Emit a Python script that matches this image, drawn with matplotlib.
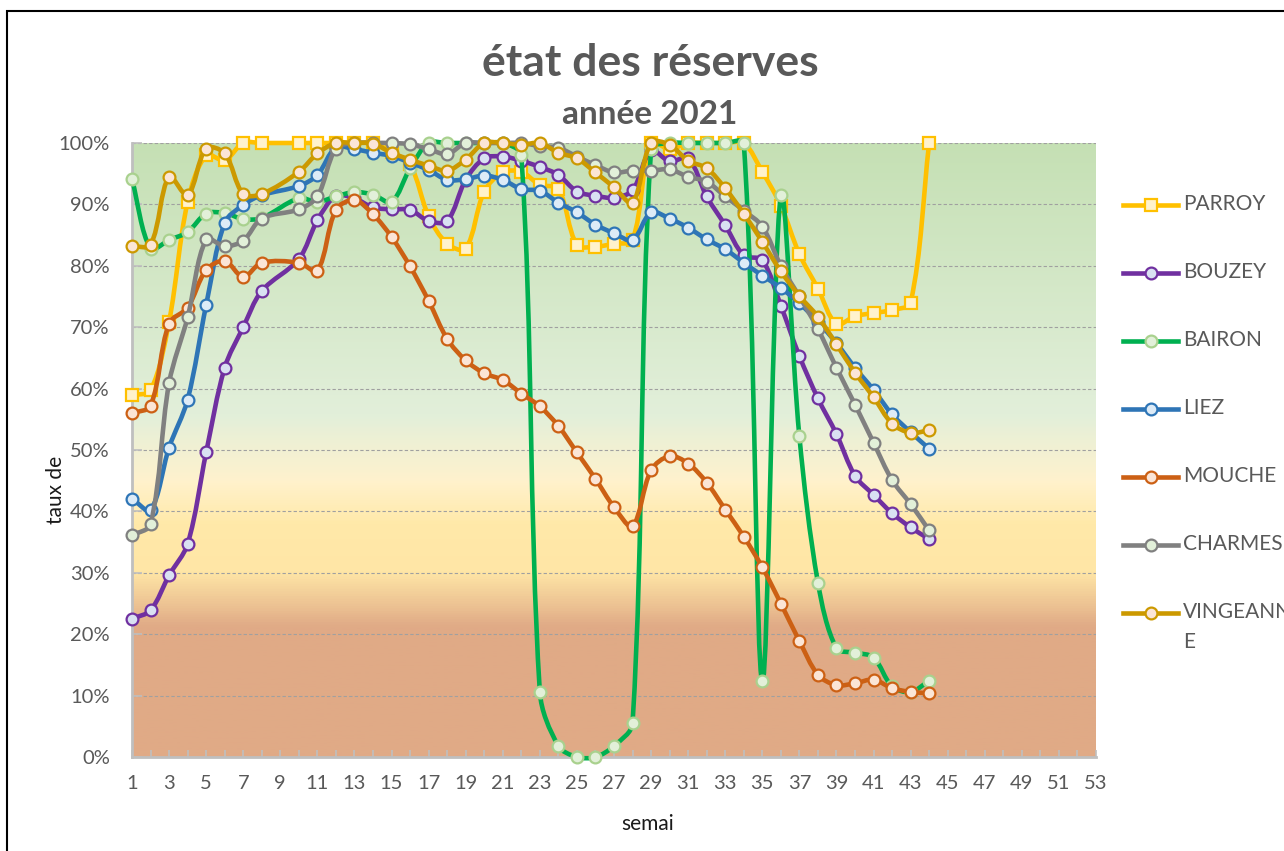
import numpy as np
import matplotlib
matplotlib.use("Agg")
import matplotlib.pyplot as plt
from matplotlib.path import Path
from matplotlib.patches import PathPatch, Rectangle
from matplotlib.lines import Line2D
from matplotlib.colors import LinearSegmentedColormap

plt.rcParams['font.family'] = ['Lato', 'DejaVu Sans']

# weekly filling rate (%) -- week 9 is missing in the source table
weeks = list(range(1, 45))

parroy = [58.9, 59.7, 70.9, 90.4, 98.0, 97.2, 100, 100, None, 100,
          100, 100, 100, 100, 98.5, 96.5, 88.1, 83.6, 82.8, 92.1,
          95.2, 95.3, 93.2, 92.5, 83.4, 83.1, 83.6, 84.2, 100, 99.0,
          100, 100, 100, 100, 95.3, 89.8, 81.9, 76.3, 70.5, 71.8,
          72.3, 72.8, 74.0, 100]
bouzey = [22.5, 23.9, 29.6, 34.7, 49.6, 63.4, 70.0, 75.9, None, 81.1,
          87.4, 91.4, 91.0, 89.5, 89.2, 89.1, 87.3, 87.3, 94.0, 97.5,
          97.8, 97.1, 96.1, 94.8, 92.1, 91.4, 91.1, 92.3, 98.8, 97.0,
          97.5, 91.3, 86.6, 81.7, 80.9, 73.5, 65.3, 58.4, 52.6, 45.8,
          42.7, 39.7, 37.4, 35.5]
bairon = [94.1, 82.8, 84.2, 85.5, 88.5, 88.6, 87.6, 87.8, None, 91.0,
          90.4, 91.3, 92.0, 91.6, 90.4, 95.9, 100, 100, 100, 100,
          100, 98.0, 10.6, 1.8, 0.0, 0.0, 1.8, 5.5, 99.0, 100,
          100, 100, 100, 100, 12.3, 91.6, 52.2, 28.4, 17.7, 17.0,
          16.2, 11.5, 10.6, 12.4]
liez = [42.1, 40.2, 50.4, 58.2, 73.6, 87.0, 89.9, 91.5, None, 93.0,
        94.8, 99.3, 99.0, 98.4, 97.9, 96.8, 95.6, 94.0, 94.1, 94.7,
        94.0, 92.5, 92.2, 90.3, 88.7, 86.7, 85.3, 84.2, 88.7, 87.7,
        86.2, 84.3, 82.7, 80.5, 78.4, 76.4, 73.9, 70.9, 67.4, 63.4,
        59.8, 55.8, 52.9, 50.2]
mouche = [56.0, 57.2, 70.6, 73.2, 79.3, 80.8, 78.2, 80.5, None, 80.5,
          79.2, 89.1, 90.7, 88.4, 84.7, 79.9, 74.3, 68.1, 64.6, 62.5,
          61.4, 59.2, 57.1, 53.9, 49.6, 45.3, 40.7, 37.6, 46.7, 49.0,
          47.8, 44.7, 40.3, 35.9, 30.9, 25.0, 18.9, 13.4, 11.7, 12.0,
          12.6, 11.2, 10.6, 10.4]
charmes = [36.1, 37.9, 60.9, 71.6, 84.3, 83.2, 84.1, 87.7, None, 89.2,
           91.3, 99.1, 100, 100, 100, 99.8, 99.0, 98.2, 100, 100,
           100, 100, 99.5, 99.2, 97.8, 96.4, 95.2, 95.5, 95.5, 95.7,
           94.5, 93.7, 91.3, 89.0, 86.4, 80.0, 75.0, 69.7, 63.4, 57.4,
           51.2, 45.1, 41.2, 36.9]
vingeanne = [83.2, 83.4, 94.5, 91.5, 99.1, 98.3, 91.7, 91.7, None, 95.3,
             98.3, 100, 100, 99.9, 98.4, 97.3, 96.3, 95.5, 97.3, 100,
             100, 99.7, 100, 98.4, 97.5, 95.2, 92.8, 90.3, 100, 99.7,
             97.1, 95.9, 92.6, 88.5, 83.9, 79.1, 75.1, 71.7, 67.2, 62.6,
             58.6, 54.3, 52.8, 53.2]

names = ['PARROY', 'BOUZEY', 'BAIRON', 'LIEZ', 'MOUCHE', 'CHARMES', 'VINGEANNE']
values = [parroy, bouzey, bairon, liez, mouche, charmes, vingeanne]
line_colors = ['#FFC000', '#7030A0', '#00B050', '#2E75B6', '#CC6014', '#808080', '#CC9900']
face_colors = ['#FFF2CC', '#D9E1F2', '#E2F0D9', '#DDEBF7', '#FBE5D6', '#E2F0D9', '#FBE5D6']
edge_colors = ['#FFC000', '#7030A0', '#A9D18E', '#2E75B6', '#CC6014', '#808080', '#CC9900']
marker_shapes = ['s', 'o', 'o', 'o', 'o', 'o', 'o']

yticks = list(range(0, 101, 10))
xticks = list(range(1, 54))

W, H = 1284, 851
AX_W, AX_H = 964, 614   # plot area in pixels


def smooth_path(xs, ys, sx, sy):
    # excel-like smoothed line: bezier with tangents weighted by chord length
    # (measured in pixels), empty cells are skipped
    p = np.array([(x, y) for x, y in zip(xs, ys) if y is not None], float)
    q = p * [sx, sy]
    n = len(p)
    d = np.hypot(*np.diff(q, axis=0).T)
    verts = [p[0]]
    codes = [Path.MOVETO]
    for i in range(n - 1):
        if i > 0:
            c1 = p[i] + (p[i + 1] - p[i - 1]) * d[i] / (d[i - 1] + d[i] + 1e-9) / 3
        else:
            c1 = p[i] + (p[i + 1] - p[i]) / 3
        if i + 2 < n:
            c2 = p[i + 1] - (p[i + 2] - p[i]) * d[i] / (d[i] + d[i + 1] + 1e-9) / 3
        else:
            c2 = p[i + 1] - (p[i + 1] - p[i]) / 3
        verts += [c1, c2, p[i + 1]]
        codes += [Path.CURVE4] * 3
    return Path(verts, codes)


fig = plt.figure(figsize=(W / 100, H / 100), dpi=100)
ax = fig.add_axes([132 / W, 1 - 757 / H, AX_W / W, AX_H / H])

# background gradient (red zone at the bottom, green at the top)
stops = [(0.0, '#E0AA86'), (0.21, '#E0AA86'), (0.30, '#FFE6A6'), (0.38, '#FFE9A9'),
         (0.45, '#FFF2CD'), (0.56, '#E2EFDA'), (1.0, '#C5E0B4')]
cmap = LinearSegmentedColormap.from_list('reserve', stops)
grad = np.linspace(0, 1, 500).reshape(-1, 1)
ax.imshow(grad, extent=[1, 53, 0, 100], origin='lower', aspect='auto', cmap=cmap, zorder=0)

ax.set_xlim(1, 53)
ax.set_ylim(0, 100)
ax.set_axisbelow(True)
ax.yaxis.grid(True, ls=(0, (3, 2)), color='#A0A0A0', lw=0.8)

sx, sy = AX_W / 52, AX_H / 100
for k, (name, vals) in enumerate(zip(names, values)):
    z = 3 + k
    ax.add_patch(PathPatch(smooth_path(weeks, vals, sx, sy), fill=False, ec=line_colors[k],
                           lw=3.3, zorder=z, clip_on=False, capstyle='round', joinstyle='round'))
    xm = [w for w, v in zip(weeks, vals) if v is not None]
    ym = [v for v in vals if v is not None]
    ax.plot(xm, ym, ls='none', marker=marker_shapes[k], ms=8.5, mew=1.6,
            mfc=face_colors[k], mec=edge_colors[k], zorder=z + 0.5, clip_on=False)

ax.set_yticks(yticks)
ax.set_yticklabels([f'{t}%' for t in yticks])
ax.set_xticks(xticks)
ax.set_xticklabels([str(t) if t % 2 == 1 else '' for t in xticks])
ax.tick_params(axis='y', direction='in', length=7, width=1.2, color='#BFBFBF',
               pad=16, labelsize=14.5, labelcolor='#595959')
ax.tick_params(axis='x', direction='in', length=5, width=1.2, color='#BFBFBF',
               pad=13, labelsize=14.5, labelcolor='#595959')
for s in ['top', 'right']:
    ax.spines[s].set_visible(False)
for s in ['left', 'bottom']:
    ax.spines[s].set_color('#BFBFBF')
    ax.spines[s].set_linewidth(2)
    ax.spines[s].set_zorder(2.5)

ax.set_xlabel('semai', fontsize=15, color='#1A1A1A')
ax.xaxis.set_label_coords((648 - 132) / AX_W, -(814 - 757) / AX_H)
ax.set_ylabel('taux de', fontsize=15, color='#1A1A1A')
ax.yaxis.set_label_coords((66 - 132) / AX_W, (757 - 490) / AX_H)

fig.text(650 / W, 1 - 63 / H, 'état des réserves', ha='center', va='center',
         fontsize=32, weight='bold', color='#595959')
fig.text(650 / W, 1 - 114 / H, 'année 2021', ha='center', va='center',
         fontsize=24, weight='bold', color='#595959')

# legend on the right
labels = ['PARROY', 'BOUZEY', 'BAIRON', 'LIEZ', 'MOUCHE', 'CHARMES', 'VINGEANN\nE']
for k, lab in enumerate(labels):
    y = 1 - (205 + 68 * k) / H
    fig.add_artist(Line2D([1123 / W, 1178 / W], [y, y], color=line_colors[k], lw=3.3,
                          transform=fig.transFigure))
    fig.add_artist(Line2D([1150.5 / W], [y], ls='none', marker=marker_shapes[k], ms=8.5, mew=1.6,
                          mfc=face_colors[k], mec=edge_colors[k], transform=fig.transFigure))
    fig.text(1183 / W, y + 11 / H, lab, ha='left', va='top', fontsize=15,
             color='#595959', linespacing=1.65)

fig.add_artist(Rectangle((7 / W, -0.1), 1.2, 1 - 11 / H + 0.1, transform=fig.transFigure,
                         fill=False, ec='black', lw=1.5))

fig.savefig('out.png', dpi=100)
